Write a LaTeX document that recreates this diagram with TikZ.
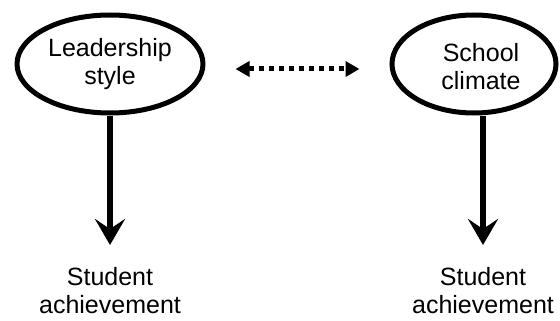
\documentclass[tikz,border=0pt]{standalone}
\usepackage{fontspec}
\setmainfont{Liberation Sans}
\usetikzlibrary{arrows.meta,shapes.geometric}
\begin{document}
\begin{tikzpicture}[x=1pt,y=-1pt,
  oval/.style={ellipse,draw,line width=5pt,inner sep=0pt},
  lbl/.style={font=\fontsize{25}{28}\selectfont,align=center,inner sep=0pt},
  down/.style={line width=6pt,-{Stealth[length=26pt,width=30pt,inset=10pt]}},
  link/.style={line width=5pt,dash pattern=on 5pt off 5pt,
    {Triangle[length=14pt,width=15pt]}-{Triangle[length=14pt,width=15pt]}}]
\useasboundingbox (0,0) rectangle (560,321);
\node[oval,minimum width=186pt,minimum height=98pt,lbl] (ls) at (110,64) {Leadership\\style};
\node[oval,minimum width=164pt,minimum height=98pt] (rs) at (474,64) {};
\node[lbl] (rt) at (481,67) {School\\climate};
\node[lbl,anchor=north] (la) at (110,267) {Student\\achievement};
\node[lbl,anchor=north] (ra) at (483,267) {Student\\achievement};
\draw[down,shorten >=22pt] (ls.south) -- (la.north);
\draw[down,shorten >=22pt] (ra.north |- rs.south) -- (ra.north);
\draw[link,shorten <=30pt,shorten >=30pt] ([yshift=-5pt]ls.east) -- ([yshift=-5pt]rs.west);
\end{tikzpicture}
\end{document}
